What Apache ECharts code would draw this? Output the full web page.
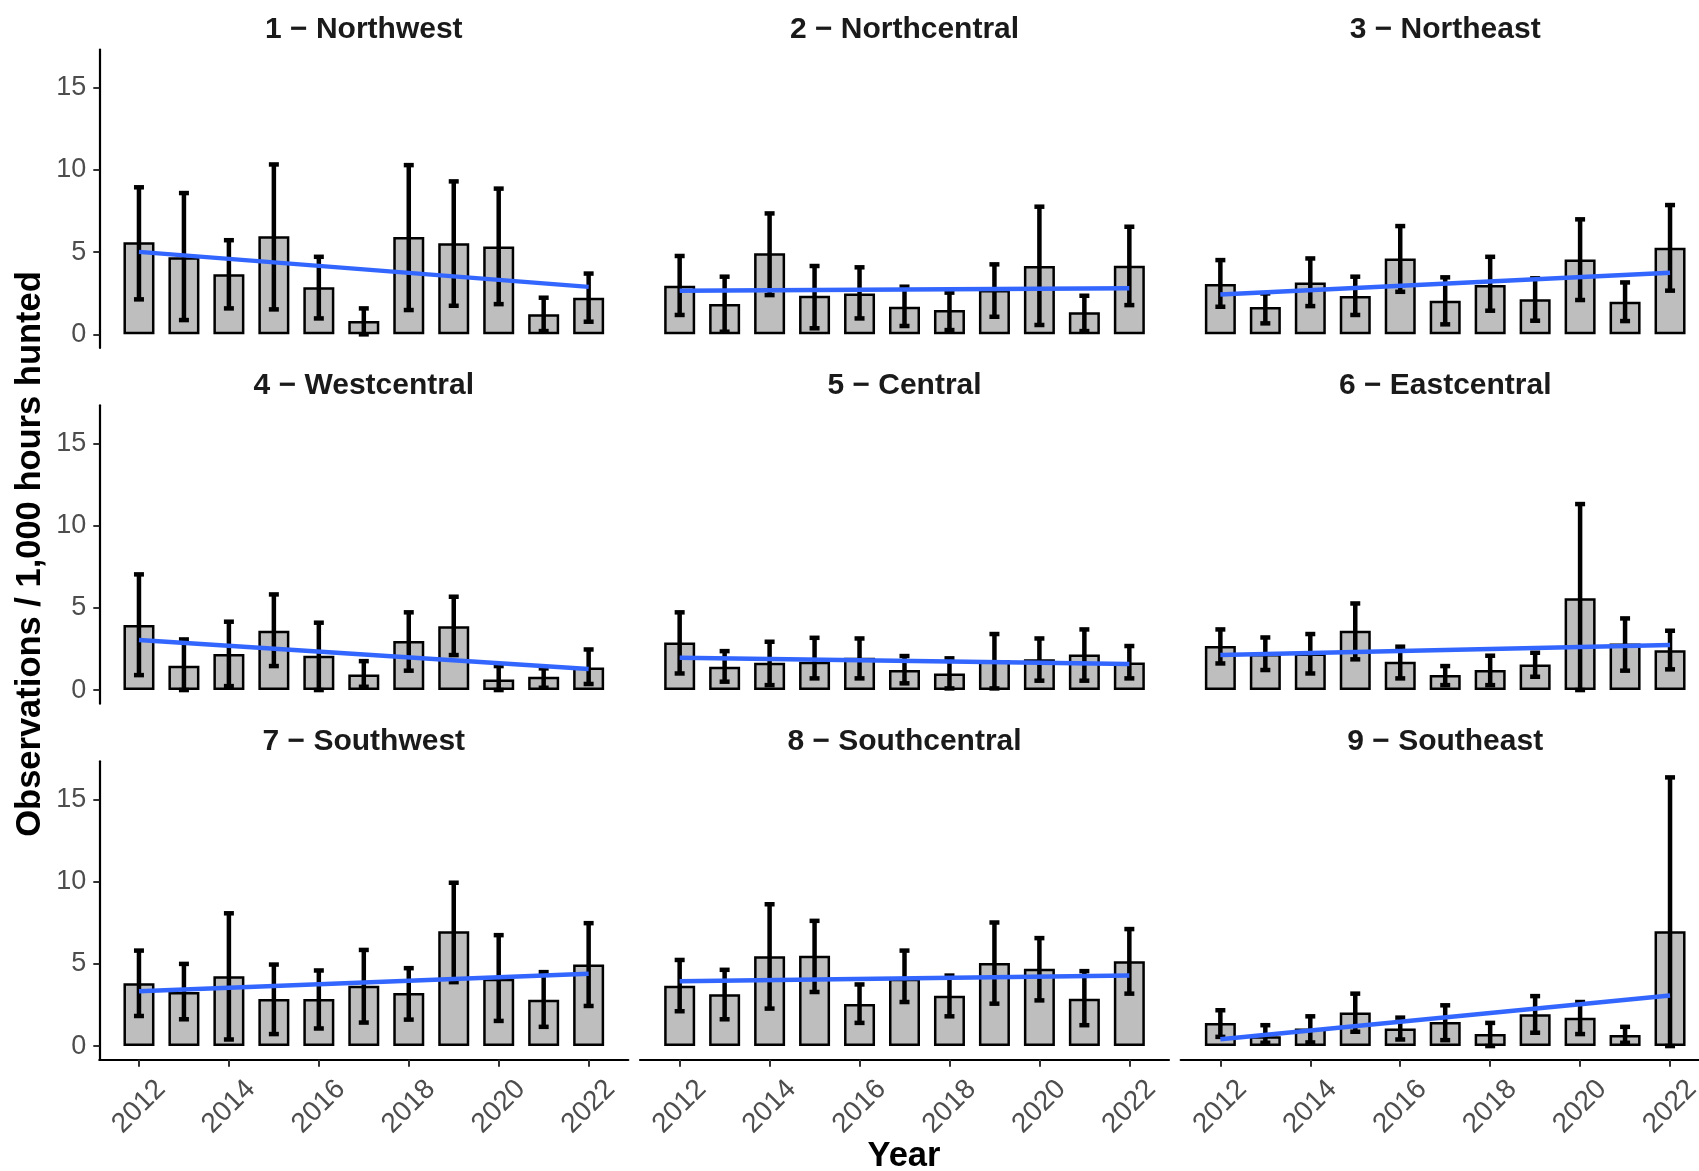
<!DOCTYPE html>
<html>
<head>
<meta charset="utf-8">
<title>Observations per 1,000 hours hunted</title>
<script src="https://cdn.jsdelivr.net/npm/echarts@6/dist/echarts.min.js"></script>
<style>
  html, body { margin: 0; padding: 0; background: #ffffff; }
  #main { width: 1699px; height: 1171px; }
</style>
</head>
<body>
<div id="main"></div>
<script>
// years on the x axis
const years = [2012, 2013, 2014, 2015, 2016, 2017, 2018, 2019, 2020, 2021, 2022];
const yearTicks = [2012, 2014, 2016, 2018, 2020, 2022];
const valueTicks = [0, 5, 10, 15];

const regions = ["1 − Northwest", "2 − Northcentral", "3 − Northeast",
                 "4 − Westcentral", "5 − Central", "6 − Eastcentral",
                 "7 − Southwest", "8 − Southcentral", "9 − Southeast"];

// bar heights, one row per region
const means = [
  [5.6, 4.7, 3.66, 5.97, 2.87, 0.81, 5.93, 5.55, 5.34, 1.23, 2.23],
  [2.96, 1.85, 4.93, 2.35, 2.49, 1.68, 1.48, 2.7, 4.16, 1.34, 4.18],
  [3.06, 1.66, 3.16, 2.33, 4.62, 2.05, 3.0, 2.13, 4.56, 1.99, 5.27],
  [3.96, 1.48, 2.19, 3.61, 2.09, 0.95, 2.98, 3.89, 0.65, 0.81, 1.38],
  [2.9, 1.42, 1.66, 1.72, 1.97, 1.22, 1.01, 1.83, 1.87, 2.17, 1.68],
  [2.68, 2.2, 2.23, 3.61, 1.72, 0.91, 1.22, 1.56, 5.58, 2.84, 2.43],
  [3.83, 3.29, 4.25, 2.86, 2.86, 3.67, 3.23, 6.98, 4.1, 2.82, 4.96],
  [3.67, 3.15, 5.46, 5.5, 2.56, 4.1, 3.06, 5.06, 4.7, 2.88, 5.16],
  [1.41, 0.6, 1.07, 2.04, 1.07, 1.47, 0.73, 1.94, 1.73, 0.67, 6.98]
];

// lower end of the error bars
const lows = [
  [2.13, 0.87, 1.58, 1.52, 0.97, 0, 1.48, 1.74, 1.84, 0.2, 0.77],
  [1.18, 0.16, 2.39, 0.37, 0.97, 0.51, 0.26, 1.07, 0.57, 0.2, 1.78],
  [1.68, 0.67, 1.72, 1.18, 2.59, 0.61, 1.44, 0.83, 2.09, 0.81, 2.66],
  [0.91, 0, 0.24, 1.46, 0, 0.2, 1.18, 2.13, 0, 0.14, 0.37],
  [1.01, 0.51, 0.3, 0.71, 0.71, 0.41, 0.1, 0.1, 0.57, 0.57, 0.71],
  [1.62, 1.22, 1.01, 1.87, 0.71, 0.3, 0.3, 0.81, 0, 1.18, 1.26],
  [1.83, 1.63, 0.4, 0.73, 1.07, 1.43, 1.61, 3.89, 1.53, 1.17, 2.44],
  [2.12, 1.63, 2.28, 3.29, 1.41, 2.68, 1.81, 2.58, 2.78, 1.27, 3.19],
  [0.56, 0.2, 0.22, 0.87, 0.4, 0.36, 0, 0.81, 0.73, 0.2, 0]
];

// upper end of the error bars
const highs = [
  [8.95, 8.6, 5.73, 10.34, 4.72, 1.58, 10.3, 9.31, 8.87, 2.23, 3.7],
  [4.77, 3.51, 7.36, 4.16, 4.08, 2.9, 2.54, 4.26, 7.77, 2.35, 6.55],
  [4.52, 2.49, 4.62, 3.51, 6.59, 3.47, 4.72, 3.41, 7.0, 3.16, 7.87],
  [7.04, 3.08, 4.16, 5.82, 4.1, 1.76, 4.73, 5.68, 1.46, 1.32, 2.47],
  [4.73, 2.37, 2.94, 3.18, 3.14, 2.07, 1.93, 3.41, 3.14, 3.69, 2.68],
  [3.69, 3.2, 3.41, 5.27, 2.64, 1.46, 2.09, 2.27, 11.32, 4.36, 3.61],
  [5.81, 5.0, 8.08, 4.96, 4.6, 5.85, 4.74, 9.94, 6.75, 4.5, 7.48],
  [5.24, 4.64, 8.63, 7.62, 3.75, 5.81, 4.29, 7.52, 6.57, 4.56, 7.12],
  [2.18, 1.27, 1.81, 3.19, 1.73, 2.48, 1.41, 3.04, 2.68, 1.17, 16.35]
];

// linear trend, value at 2012 and at 2022
const trendStart = [5.02, 2.66, 2.43, 3.04, 1.97, 2.13, 3.33, 3.95, 0.42];
const trendEnd = [2.89, 2.8, 3.75, 1.28, 1.58, 2.74, 4.4, 4.29, 3.08];

// panel layout (pixels)
const colLeft = [99.3, 640, 1180.7];
const rowTop = [49.6, 405.3, 761.3];
const panelW = 529;
const panelH = 298.4;

const font = "'Liberation Sans', Arial, sans-serif";

var chart = echarts.init(document.getElementById("main"), null, { renderer: "canvas" });

// error bar drawn as a vertical line with two short caps
function renderErr(params, api) {
  let x = api.value(0);
  let pLo = api.coord([x, api.value(1)]);
  let pHi = api.coord([x, api.value(2)]);
  let half = 5;
  let st = { stroke: "#000000", lineWidth: 4.5 };
  return {
    type: "group",
    children: [
      { type: "line", shape: { x1: pLo[0], y1: pLo[1], x2: pHi[0], y2: pHi[1] }, style: st },
      { type: "line", shape: { x1: pLo[0] - half, y1: pLo[1], x2: pLo[0] + half, y2: pLo[1] }, style: st },
      { type: "line", shape: { x1: pHi[0] - half, y1: pHi[1], x2: pHi[0] + half, y2: pHi[1] }, style: st }
    ]
  };
}

let grids = [], xAxes = [], yAxes = [], series = [], texts = [];

for (let i = 0; i < 9; i++) {
  let row = Math.floor(i / 3);
  let col = i % 3;
  let bottomRow = row === 2;
  let firstCol = col === 0;

  grids.push({
    left: colLeft[col],
    top: rowTop[row],
    width: panelW,
    height: panelH,
    containLabel: false,
    outerBoundsMode: "none"
  });

  xAxes.push({
    type: "value",
    gridIndex: i,
    min: 2011.118,
    max: 2022.882,
    show: bottomRow,
    axisLine: { show: bottomRow, onZero: false, lineStyle: { color: "#000000", width: 2.2 } },
    axisTick: { show: bottomRow, length: 7, customValues: yearTicks, lineStyle: { color: "#333333", width: 2 } },
    axisLabel: {
      show: bottomRow,
      customValues: yearTicks,
      formatter: function(v) { return String(v); },
      rotate: 45,
      align: "center",
      verticalAlign: "middle",
      margin: 47,
      fontSize: 28,
      color: "#4D4D4D",
      fontFamily: font
    },
    splitLine: { show: false }
  });

  yAxes.push({
    type: "value",
    gridIndex: i,
    min: -0.83,
    max: 17.33,
    show: firstCol,
    axisLine: { show: firstCol, onZero: false, lineStyle: { color: "#000000", width: 2.2 } },
    axisTick: { show: firstCol, length: 6, customValues: valueTicks, lineStyle: { color: "#333333", width: 2 } },
    axisLabel: {
      show: firstCol,
      customValues: valueTicks,
      margin: 13,
      fontSize: 27,
      color: "#4D4D4D",
      fontFamily: font
    },
    splitLine: { show: false }
  });

  series.push({
    type: "bar",
    xAxisIndex: i,
    yAxisIndex: i,
    barWidth: 31,
    data: years.map((y, k) => [y, means[i][k]]),
    itemStyle: { color: "#BEBEBE", borderColor: "#000000", borderWidth: 2.5 },
    silent: true,
    z: 2
  });

  series.push({
    type: "custom",
    xAxisIndex: i,
    yAxisIndex: i,
    renderItem: renderErr,
    encode: { x: 0, y: [1, 2] },
    data: years.map((y, k) => [y, lows[i][k], highs[i][k]]),
    silent: true,
    z: 3
  });

  series.push({
    type: "line",
    xAxisIndex: i,
    yAxisIndex: i,
    data: [[2012, trendStart[i]], [2022, trendEnd[i]]],
    showSymbol: false,
    symbol: "none",
    lineStyle: { color: "#3366FF", width: 4.5 },
    silent: true,
    z: 4
  });

  // facet title
  texts.push({
    type: "text",
    x: colLeft[col] + panelW / 2,
    y: rowTop[row] - 19.5,
    style: {
      text: regions[i],
      textAlign: "center",
      textVerticalAlign: "middle",
      fontSize: 30,
      fontWeight: "bold",
      fontFamily: font,
      fill: "#1A1A1A"
    }
  });
}

// axis titles
texts.push({
  type: "text",
  x: 30,
  y: 554,
  rotation: Math.PI / 2,
  style: {
    text: "Observations / 1,000 hours hunted",
    textAlign: "center",
    textVerticalAlign: "middle",
    fontSize: 34.5,
    fontWeight: "bold",
    fontFamily: font,
    fill: "#000000"
  }
});
texts.push({
  type: "text",
  x: 904,
  y: 1156,
  style: {
    text: "Year",
    textAlign: "center",
    textVerticalAlign: "middle",
    fontSize: 34.5,
    fontWeight: "bold",
    fontFamily: font,
    fill: "#000000"
  }
});

var option = {
  backgroundColor: "#ffffff",
  animation: false,
  grid: grids,
  xAxis: xAxes,
  yAxis: yAxes,
  series: series,
  graphic: texts
};

chart.setOption(option);
</script>
</body>
</html>
